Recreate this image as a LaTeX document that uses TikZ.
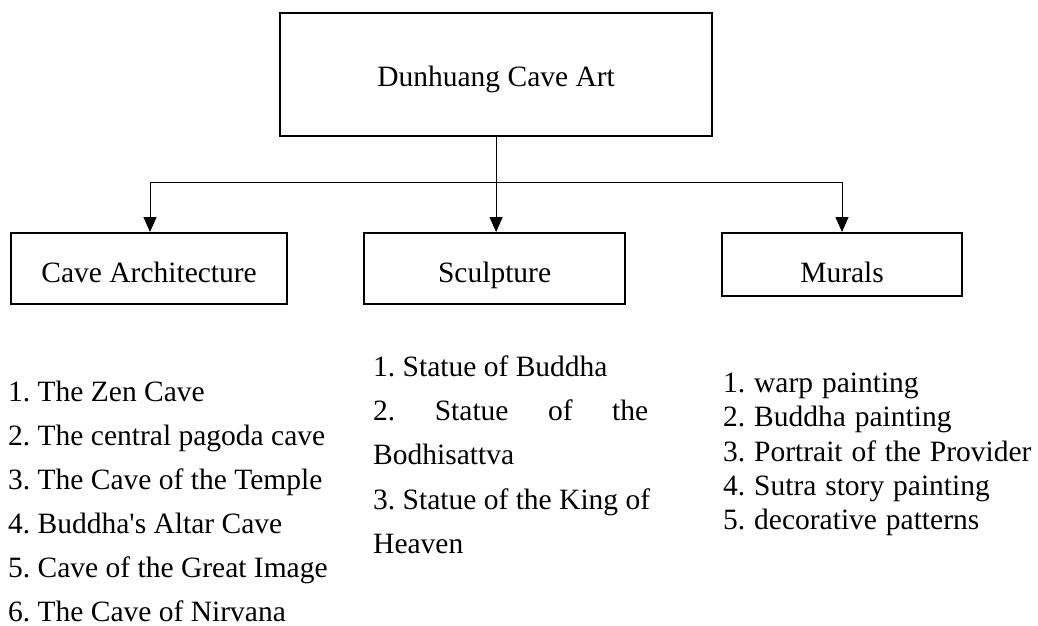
\documentclass[tikz,border=0pt]{standalone}
\usepackage{fontspec}
\setmainfont{Liberation Serif}[Ligatures=TeXOff]
\usetikzlibrary{arrows.meta}
\frenchspacing
\begin{document}
\begin{tikzpicture}[x=1pt,y=-1pt,
  box/.style={draw, line width=2.2pt, inner sep=0pt, anchor=north west,
    font=\fontsize{29.5}{35}\selectfont},
  conn/.style={line width=1pt},
  arr/.style={conn, -{Triangle[length=15pt,width=13pt]}},
  txt/.style={anchor=base west, inner sep=0pt, font=\fontsize{29.5}{35}\selectfont\frenchspacing}]
\useasboundingbox (0,0) rectangle (1038,626);

% boxes
\node[box, minimum width=432pt, text height=73pt, text depth=50pt] (top) at (279,12) {Dunhuang Cave Art};
\node[box, minimum width=276pt, text height=49pt, text depth=22pt] (ca) at (10,232) {Cave Architecture};
\node[box, minimum width=261pt, text height=49pt, text depth=22pt] (sc) at (363,232) {Sculpture};
\node[box, minimum width=240pt, text height=49pt, text depth=14pt] (mu) at (721,232) {Murals};

% connectors
\coordinate (jl) at (150,182);
\coordinate (jr) at (842,182);
\draw[conn] (jl) -- (jr);
\draw[arr] (top.south) -- (top.south |- sc.north);
\draw[arr] (jl) -- (jl |- ca.north);
\draw[arr] (jr) -- (jr |- mu.north);

% list: cave architecture
\foreach \t [count=\i] in {1. The Zen Cave, 2. The central pagoda cave, 3. The Cave of the Temple,
  4. Buddha's Altar Cave, 5. Cave of the Great Image, 6. The Cave of Nirvana}
  \node[txt] (a\i) at (8,{401.7+44*(\i-1)}) {\t};

% list: sculpture
\foreach \t [count=\i] in {1. Statue of Buddha, {\hbox to 275pt{2.\hfill Statue\hfill of\hfill the}},
  Bodhisattva, 3. Statue of the King of, Heaven}
  \node[txt] (s\i) at (373,{376.7+44.1*(\i-1)}) {\t};

% list: murals
\foreach \t [count=\i] in {1. warp painting, 2. Buddha painting, 3. Portrait of the Provider,
  4. Sutra story painting, 5. decorative patterns}
  \node[txt] (m\i) at (723,{392.7+34.2*(\i-1)}) {\spaceskip=.3em\relax\t};
\end{tikzpicture}
\end{document}
